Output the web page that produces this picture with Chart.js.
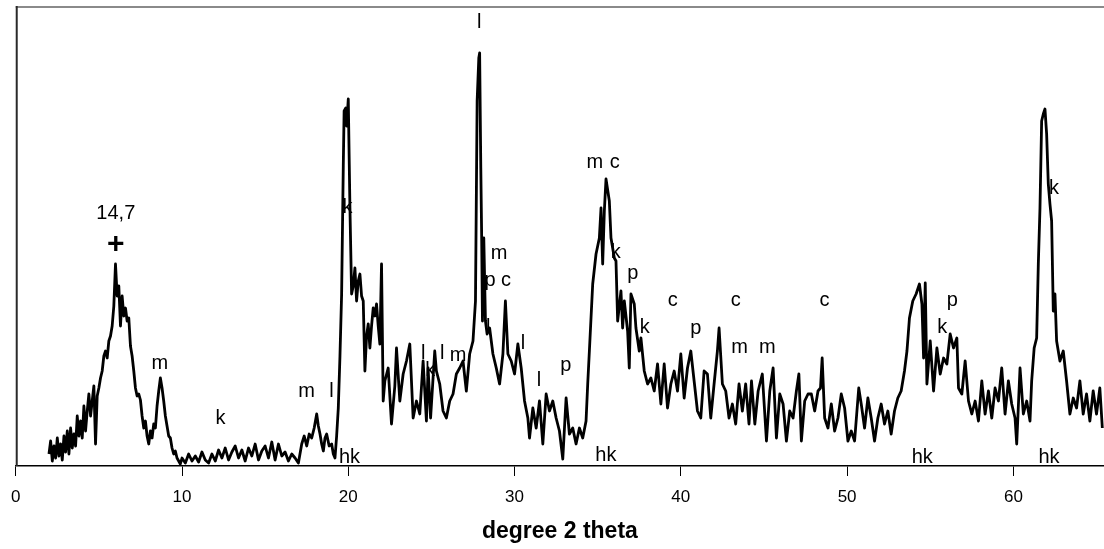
<!DOCTYPE html>
<html>
<head>
<meta charset="utf-8">
<script src="https://cdn.jsdelivr.net/npm/chart.js@4.4.1/dist/chart.umd.min.js"></script>
<style>
  html, body { margin: 0; padding: 0; background: #fff; }
  #wrap { width: 1104px; height: 549px; }
</style>
</head>
<body>
<div id="wrap"><canvas id="xrd"></canvas></div>
<script>
// ── X-ray diffraction scan ──
const twoTheta = [
  2.0, 2.1, 2.2, 2.3, 2.4, 2.5, 2.6, 2.7, 2.8, 2.9,
  3.0, 3.1, 3.2, 3.3, 3.4, 3.5, 3.6, 3.7, 3.8, 3.9,
  4.0, 4.1, 4.2, 4.3, 4.4, 4.5, 4.6, 4.7, 4.8, 4.9,
  5.0, 5.1, 5.2, 5.3, 5.4, 5.5, 5.6, 5.7, 5.8, 5.9,
  6.0, 6.1, 6.2, 6.3, 6.4, 6.5, 6.6, 6.7, 6.8, 6.9,
  7.0, 7.1, 7.2, 7.3, 7.4, 7.5, 7.6, 7.7, 7.8, 7.9,
  8.0, 8.1, 8.2, 8.3, 8.4, 8.5, 8.6, 8.7, 8.8, 8.9,
  9.0, 9.1, 9.2, 9.3, 9.4, 9.5, 9.6, 9.7, 9.8, 9.9,
  10.0, 10.2, 10.4, 10.6, 10.8, 11.0, 11.2, 11.4, 11.6, 11.8,
  12.0, 12.2, 12.4, 12.6, 12.8, 13.0, 13.2, 13.4, 13.6, 13.8,
  14.0, 14.2, 14.4, 14.6, 14.8, 15.0, 15.2, 15.4, 15.6, 15.8,
  16.0, 16.2, 16.4, 16.6, 16.8, 17.0,
  17.2, 17.35, 17.5, 17.65, 17.8, 17.95, 18.1, 18.2, 18.3, 18.4,
  18.5, 18.6, 18.7, 18.85, 19.0, 19.1, 19.2, 19.3, 19.4, 19.5,
  19.6, 19.7, 19.75, 19.85, 19.9, 20.0, 20.1, 20.2, 20.3, 20.4,
  20.5, 20.6, 20.7, 20.8, 20.9, 21.0, 21.1, 21.2, 21.3, 21.4,
  21.5, 21.6, 21.7, 21.8, 21.9, 22.0, 22.1, 22.2, 22.4, 22.6,
  22.8, 22.9, 23.1, 23.3, 23.5, 23.7, 23.9, 24.1, 24.3, 24.5,
  24.7, 24.8, 24.95, 25.2, 25.3, 25.5, 25.7, 25.9, 26.1, 26.3,
  26.5, 26.7, 26.9, 27.1, 27.3, 27.5, 27.65, 27.75, 27.85, 27.9,
  27.97, 28.02, 28.07, 28.15, 28.25, 28.35, 28.5, 28.7, 28.9, 29.1,
  29.3, 29.45, 29.6, 29.8, 30.0, 30.2, 30.4, 30.6, 30.8, 30.9,
  31.1, 31.3, 31.5, 31.7, 31.9, 32.1, 32.3, 32.5, 32.7, 32.9,
  33.1, 33.3,
  33.5, 33.7, 33.9, 34.1, 34.3, 34.4, 34.5, 34.7, 34.9, 35.1,
  35.2, 35.3, 35.4, 35.5, 35.7, 35.8, 36.0, 36.1, 36.2, 36.4,
  36.5, 36.6, 36.8, 36.9, 37.0, 37.2, 37.3, 37.5, 37.6, 37.8,
  38.0, 38.2, 38.4, 38.6, 38.8, 39.0, 39.2, 39.4, 39.6, 39.8,
  40.0, 40.2, 40.4, 40.6, 40.8, 41.0, 41.2, 41.4, 41.6, 41.8,
  42.0, 42.2, 42.3, 42.5, 42.7, 42.9, 43.1, 43.3, 43.5, 43.7,
  43.9, 44.1,
  44.25, 44.45, 44.65, 44.9, 45.15, 45.35, 45.55, 45.75, 45.95, 46.15,
  46.35, 46.55, 46.75, 46.95, 47.1, 47.25, 47.45, 47.65, 47.85, 48.05,
  48.25, 48.4, 48.5, 48.65, 48.85, 49.05, 49.25, 49.45, 49.65, 49.85,
  50.05, 50.25, 50.45, 50.7, 50.85, 51.05, 51.25, 51.45, 51.65, 51.85,
  52.05, 52.25, 52.45, 52.65, 52.85, 53.05, 53.25, 53.45, 53.6, 53.75,
  53.95, 54.15, 54.35, 54.5, 54.6, 54.7, 54.8,
  55.0, 55.2, 55.4, 55.6, 55.8, 56.0, 56.2, 56.4, 56.6, 56.7,
  56.9, 57.1, 57.3, 57.5, 57.7, 57.9, 58.1, 58.3, 58.5, 58.7,
  58.9, 59.1, 59.3, 59.5, 59.7, 59.9, 60.1, 60.2, 60.4, 60.6,
  60.8, 61.0, 61.1, 61.25, 61.4, 61.5, 61.6, 61.7, 61.8, 61.9,
  62.0, 62.1, 62.2, 62.3, 62.4, 62.5, 62.6, 62.8, 63.0, 63.2,
  63.4, 63.6, 63.8, 64.0, 64.2, 64.4, 64.6, 64.8, 65.0, 65.2,
  65.35
];

const intensity = [
  12, 25, 5, 20, 8, 28, 10, 22, 6, 30,
  14, 35, 12, 38, 18, 32, 20, 50, 30, 45,
  28, 60, 35, 55, 72, 50, 65, 80, 22, 70,
  78, 88, 95, 110, 115, 108, 125, 130, 140, 160,
  202, 170, 180, 140, 170, 150, 158, 145, 148, 120,
  110, 95, 78, 70, 72, 66, 50, 38, 45, 30,
  22, 35, 28, 42, 38, 60, 75, 88, 78, 65,
  50, 40, 30, 28, 18, 12, 15, 8, 5, 2,
  8, 3, 12, 5, 10, 4, 14, 6, 3, 12,
  5, 16, 8, 18, 6, 14, 20, 8, 16, 5,
  18, 10, 22, 6, 15, 20, 8, 24, 6, 22,
  10, 14, 5, 12, 8, 3,
  22, 30, 20, 32, 28, 38, 52, 40, 32, 22,
  15, 28, 32, 20, 22, 12, 8, 30, 58, 110,
  172, 300, 355, 358, 340, 367, 258, 172, 180, 198,
  165, 185, 192, 170, 165, 95, 130, 142, 118, 140,
  158, 150, 162, 140, 122, 202, 65, 85, 98, 42,
  80, 118, 65, 92, 105, 122, 48, 65, 52, 105,
  45, 98, 48, 115, 95, 82, 55, 48, 65, 72,
  92, 98, 105, 75, 112, 125, 165, 365, 408, 413,
  298, 232, 145, 228, 145, 132, 138, 112, 98, 82,
  112, 165, 112, 105, 92, 122, 98, 65, 48, 28,
  58, 38, 65, 22, 72, 55, 65, 48, 35, 7,
  68, 32,
  38, 22, 38, 28, 45, 82, 115, 182, 212, 228,
  258, 202, 255, 287, 265, 228, 208, 205, 145, 175,
  138, 165, 135, 98, 172, 162, 138, 115, 128, 95,
  82, 88, 75, 102, 62, 102, 58, 82, 95, 75,
  112, 68, 98, 115, 85, 55, 48, 95, 92, 48,
  82, 115, 138, 82, 75, 48, 62, 42, 82, 55,
  82, 42,
  85, 42, 75, 92, 25, 75, 98, 28, 72, 62,
  25, 55, 48, 75, 92, 25, 65, 72, 72, 55,
  75, 78, 108, 48, 38, 62, 35, 48, 72, 58,
  25, 35, 25, 78, 62, 38, 68, 48, 25, 48,
  62, 42, 55, 32, 55, 68, 75, 95, 115, 148,
  165, 172, 182, 162, 108, 183, 82,
  125, 75, 118, 92, 108, 102, 132, 118, 128, 78,
  72, 105, 65, 52, 65, 45, 85, 52, 75, 48,
  78, 65, 98, 52, 85, 62, 48, 22, 98, 52,
  65, 45, 85, 118, 128, 202, 258, 345, 352, 357,
  332, 282, 262, 245, 155, 172, 125, 105, 115, 85,
  52, 68, 58, 85, 52, 72, 45, 75, 52, 78,
  38
];

const xTicks = [0, 10, 20, 30, 40, 50, 60];

// mineral labels: text, 2theta, intensity height
const peakLabels = [
  ['14,7', 6.02, 253], ['+', 6.02, 221], ['m', 8.66, 103], ['k', 12.32, 48],
  ['m', 17.49, 75], ['l', 18.99, 75], ['hk', 20.07, 9], ['k', 19.95, 259],
  ['l', 24.5, 113], ['k', 24.93, 96], ['l', 25.65, 113], ['m', 26.6, 111],
  ['l', 27.87, 444], ['m', 29.07, 213], ['p', 28.53, 186], ['c', 29.49, 186],
  ['l', 28.41, 139], ['l', 30.51, 123], ['l', 31.47, 86], ['p', 33.09, 101],
  ['m', 34.83, 304], ['c', 36.03, 304], ['k', 36.09, 214], ['p', 37.11, 193],
  ['k', 37.83, 139], ['c', 39.51, 166], ['p', 40.9, 138], ['c', 43.3, 166],
  ['m', 43.54, 119], ['m', 45.2, 119], ['c', 48.64, 166], ['hk', 35.49, 11],
  ['hk', 54.52, 9], ['k', 55.72, 139], ['p', 56.32, 166], ['hk', 62.14, 9],
  ['k', 62.44, 278]
];

const FONT = "'Liberation Sans', Arial, sans-serif";

// ── Frame: grey top rule + dark left rule ──
const framePlugin = {
  id: 'frame',
  beforeDatasetsDraw(chart) {
    const { ctx, chartArea: a } = chart;
    ctx.save();
    ctx.lineWidth = 2;
    ctx.strokeStyle = '#8a8a8a';
    ctx.beginPath();
    ctx.moveTo(a.left, a.top + 1);
    ctx.lineTo(a.right, a.top + 1);
    ctx.stroke();
    ctx.strokeStyle = '#2a2a2a';
    ctx.beginPath();
    ctx.moveTo(a.left + 1, a.top);
    ctx.lineTo(a.left + 1, a.bottom);
    ctx.stroke();
    ctx.restore();
  }
};

// ── Peak annotations ──
const labelPlugin = {
  id: 'peakLabels',
  afterDatasetsDraw(chart) {
    const { ctx, scales: { x, y } } = chart;
    ctx.save();
    ctx.fillStyle = '#000';
    ctx.textAlign = 'center';
    ctx.textBaseline = 'middle';
    peakLabels.forEach(([t, tx, ty]) => {
      ctx.font = t === '+' ? 'bold 30px ' + FONT : '20px ' + FONT;
      ctx.fillText(t, x.getPixelForValue(tx), y.getPixelForValue(ty));
    });
    ctx.restore();
  }
};

new Chart(document.getElementById('xrd'), {
  type: 'line',
  data: {
    datasets: [{
      data: twoTheta.map((t, i) => ({ x: t, y: intensity[i] })),
      borderColor: '#000',
      borderWidth: 2.8,
      borderJoinStyle: 'round',
      pointRadius: 0,
      tension: 0,
      fill: false
    }]
  },
  options: {
    responsive: true,
    maintainAspectRatio: false,
    animation: false,
    layout: { padding: { left: 12, top: 6, right: 0, bottom: 0 } },
    plugins: { legend: { display: false }, tooltip: { enabled: false } },
    scales: {
      x: {
        type: 'linear',
        min: 0,
        max: 65.45,
        afterBuildTicks: s => { s.ticks = xTicks.map(v => ({ value: v })); },
        afterFit: s => { s.height = 83; },
        grid: { drawOnChartArea: false, drawTicks: true, tickLength: 10, color: '#000', lineWidth: 1 },
        border: { color: '#000', width: 1.5 },
        ticks: { color: '#000', padding: 11, font: { family: FONT, size: 17 } },
        title: {
          display: true,
          text: 'degree 2 theta',
          color: '#000',
          font: { family: FONT, size: 23, weight: 'bold' },
          padding: { top: 0, bottom: 4 }
        }
      },
      y: { display: false, min: 0, max: 460 }
    }
  },
  plugins: [framePlugin, labelPlugin]
});
</script>
</body>
</html>
